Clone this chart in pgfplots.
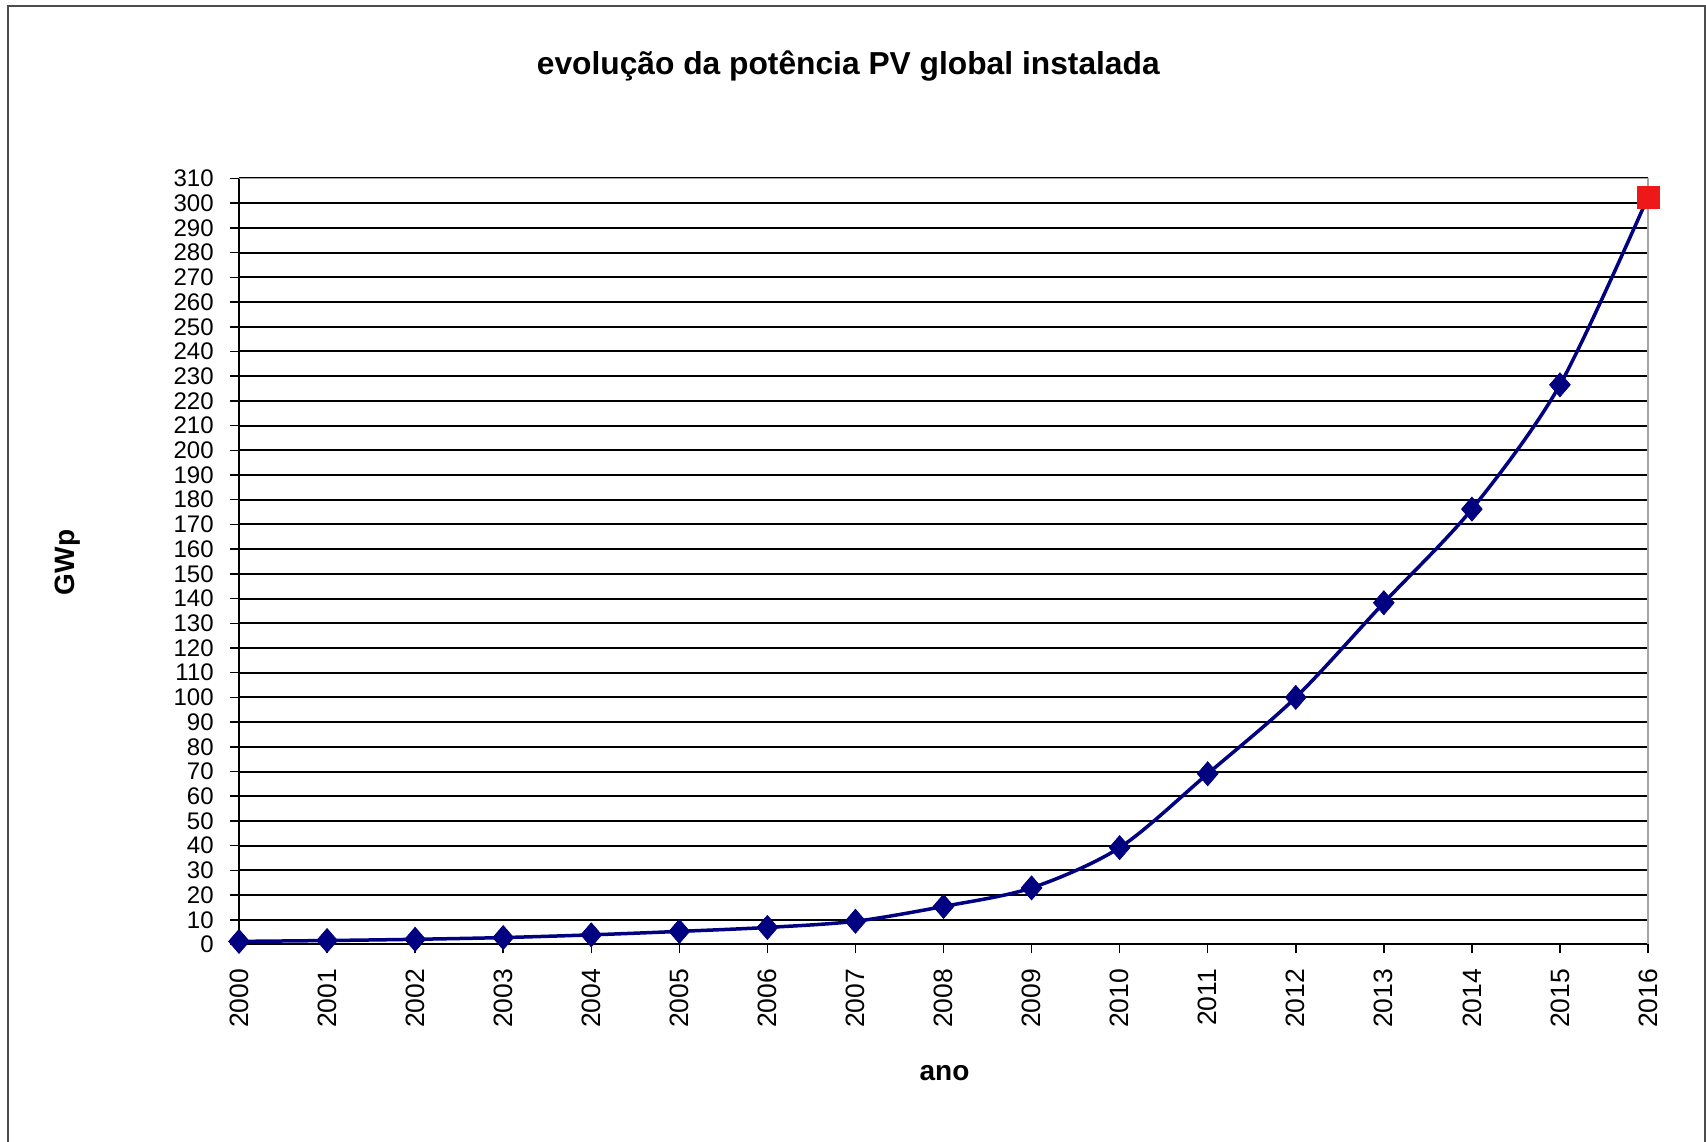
\documentclass[border=0pt]{standalone}
\usepackage{pgfplots}
\pgfplotsset{compat=1.18}
\usepackage{fontspec}
\setmainfont{Liberation Sans}
\definecolor{pvnavy}{RGB}{0,0,128}
\definecolor{pvred}{RGB}{238,24,24}

% installed PV capacity worldwide (GWp)
\pgfplotstableread{
ano  gwp
2000 1.25
2001 1.6
2002 2.1
2003 2.8
2004 3.9
2005 5.3
2006 6.9
2007 9.4
2008 15.4
2009 22.9
2010 39.2
2011 69.1
2012 100
2013 138.3
2014 176.2
2015 226.5
2016 302.5
}\pvdata

\begin{document}
\begin{tikzpicture}
\useasboundingbox (0,0) rectangle (682.4pt,456.8pt);
% chart frame
\draw[black!70, line width=0.8pt] (3.2pt,-20pt) -- (3.2pt,454.4pt) -- (682pt,454.4pt) -- (682pt,-20pt);

\node[font=\fontsize{12.7}{14}\selectfont\bfseries] at (339.3pt,430.2pt) {evolução da potência PV global instalada};
\node[font=\fontsize{11.2}{13}\selectfont\bfseries, rotate=90] at (27pt,231.8pt) {GWp};
\node[font=\fontsize{11.2}{13}\selectfont\bfseries] at (377.8pt,27.6pt) {ano};

\begin{axis}[
  at={(95.6pt,79pt)}, anchor=south west,
  scale only axis, width=563.6pt, height=306.4pt,
  xmin=2000, xmax=2016, ymin=0, ymax=310,
  xtick={2000,2001,...,2016}, ytick={0,10,...,310},
  axis x line*=bottom, axis y line*=left,
  axis line style={-, black, line width=0.8pt},
  tick align=outside, major tick length=3.6pt,
  tick style={black, line width=0.6pt},
  ymajorgrids, grid style={black, line width=0.8pt},
  clip=false,
  /pgf/number format/assume math mode=true,
  /pgf/number format/1000 sep={},
  yticklabel style={font=\fontsize{9.6}{10}\selectfont, xshift=-3pt},
  xticklabel style={font=\fontsize{10.6}{11}\selectfont, yshift=-2.6pt, rotate=90, anchor=east},
]
% plot area border
\draw[gray!70, line width=0.6pt] (axis cs:2000,310) -- (axis cs:2016,310) -- (axis cs:2016,0);
\addplot[pvnavy, line width=1.4pt, smooth,
  mark=diamond*, mark size=4.8pt,
  mark options={solid, xscale=1.15, fill=pvnavy, draw=pvnavy, line width=0.3pt},
  mark indices={1,2,3,4,5,6,7,8,9,10,11,12,13,14,15,16}]
  table[x=ano, y=gwp] {\pvdata};
\addplot[only marks, mark=square*, mark size=4.2pt,
  mark options={fill=pvred, draw=pvred, line width=0.8pt, rounded corners=1.5pt}]
  coordinates {(2016,302.5)};
\end{axis}
\end{tikzpicture}
\end{document}
